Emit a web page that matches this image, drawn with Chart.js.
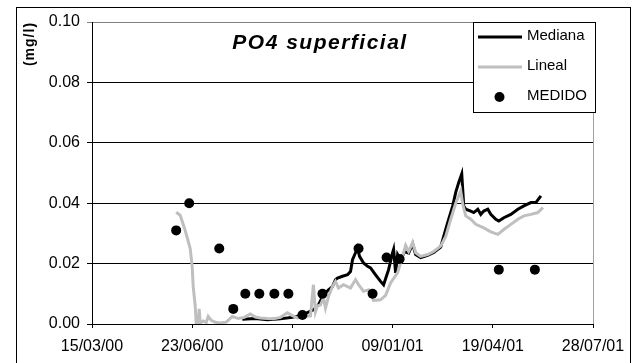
<!DOCTYPE html>
<html>
<head>
<meta charset="utf-8">
<script src="https://cdn.jsdelivr.net/npm/chart.js@4/dist/chart.umd.min.js"></script>
<style>
  html, body { margin: 0; padding: 0; background: #fff; }
  canvas { display: block; }
</style>
</head>
<body>
<canvas id="chart" width="637" height="363"></canvas>
<script>
// x values are days counted from 15/03/00
const tickLabels = ["15/03/00", "23/06/00", "01/10/00", "09/01/01", "19/04/01", "28/07/01"];

const medianaDays = [150, 163, 175, 188, 200, 210, 221, 226, 231, 236, 240, 243, 245, 250, 255, 258, 260, 263, 265, 267,
    271, 275, 278, 283, 288, 291, 296, 300, 301, 303, 305, 308, 312, 316, 320, 323, 328, 335, 341, 348,
    355, 360, 363, 366, 369, 371, 373, 378, 381, 385, 388, 391, 395, 398, 403, 406, 411, 418, 425, 431,
    438, 443, 448];
const medianaValues = [0.0016, 0.0018, 0.0014, 0.0017, 0.0022, 0.003, 0.0047, 0.0063, 0.0097, 0.0113, 0.0124, 0.0147, 0.0152, 0.0158, 0.0163, 0.0174, 0.0213, 0.0236, 0.0252, 0.0224,
    0.0202, 0.0191, 0.0186, 0.0163, 0.0141, 0.013, 0.018, 0.0236, 0.0247, 0.0169, 0.023, 0.0213, 0.024, 0.0235, 0.0265, 0.023, 0.022, 0.0227, 0.0237, 0.0255,
    0.0336, 0.0391, 0.0436, 0.0469, 0.0497, 0.0391, 0.038, 0.0374, 0.0369, 0.038, 0.0363, 0.0374, 0.038, 0.0363, 0.0347, 0.0341, 0.0352, 0.0363, 0.038, 0.0391,
    0.0402, 0.0402, 0.0424];

const linealDays = [84, 88, 93, 98, 100, 101, 103, 104, 106, 107, 108, 111, 114, 116, 119, 123, 128, 134, 140, 146,
    152, 158, 163, 168, 175, 181, 188, 195, 200, 205, 211, 218, 221, 223, 225, 228, 231, 233, 236, 240,
    243, 246, 251, 258, 263, 266, 271, 276, 281, 288, 293, 298, 305, 310, 313, 316, 320, 323, 328, 335,
    341, 348, 353, 358, 363, 368, 370, 373, 378, 383, 391, 398, 405, 411, 418, 425, 431, 438, 445, 450];
const linealValues = [0.037, 0.036, 0.031, 0.025, 0.019, 0.0124, 0.006, 0.0003, 0.0005, 0.005, 0.0003, 0.001, 0.0005, 0.0025, 0.0012, 0.0006, 0.0003, 0.0006, 0.0025, 0.0018,
    0.0022, 0.0033, 0.0023, 0.002, 0.0018, 0.0017, 0.0022, 0.0037, 0.0028, 0.002, 0.0025, 0.0027, 0.013, 0.004, 0.006, 0.0063, 0.0086, 0.0053, 0.0091, 0.0124,
    0.0141, 0.0119, 0.013, 0.0119, 0.0147, 0.013, 0.0108, 0.0113, 0.0078, 0.008, 0.0095, 0.0136, 0.017, 0.0224, 0.026, 0.024, 0.027, 0.0236, 0.0224, 0.023,
    0.024, 0.0258, 0.029, 0.0347, 0.040, 0.0441, 0.0397, 0.0358, 0.0347, 0.033, 0.0318, 0.0305, 0.0297, 0.0313, 0.033, 0.0347, 0.0358, 0.0363, 0.0369, 0.0386];

const medidoDays = [84, 97, 127, 141, 153, 167, 182, 196, 210, 230, 266, 280, 294, 307, 406, 442];
const medidoValues = [0.031, 0.040, 0.025, 0.005, 0.010, 0.010, 0.010, 0.010, 0.003, 0.010, 0.025, 0.010, 0.022, 0.0215, 0.018, 0.018];

const toPoints = (days, values) => days.map((d, i) => ({ x: d, y: values[i] }));

const FONT = "'Liberation Sans', Arial, sans-serif";
Chart.defaults.font.family = FONT;
Chart.defaults.color = "#000";

// frame, plot border, title, y label and legend drawn by hand
const decorations = {
    id: "decorations",
    beforeDraw(chart) {
        const ctx = chart.ctx;
        ctx.save();
        ctx.fillStyle = "#fff";
        ctx.fillRect(0, 0, chart.width, chart.height);
        ctx.restore();
    },
    afterDraw(chart) {
        const ctx = chart.ctx;
        const area = chart.chartArea;
        ctx.save();

        // outer frame
        ctx.strokeStyle = "#000";
        ctx.lineWidth = 1;
        ctx.strokeRect(16.5, 7.5, 614, 370);

        // right edge of plot area
        ctx.strokeStyle = "#a0a0a0";
        ctx.beginPath();
        ctx.moveTo(Math.round(area.right) + 0.5, area.top);
        ctx.lineTo(Math.round(area.right) + 0.5, area.bottom);
        ctx.stroke();

        // title inside plot
        ctx.fillStyle = "#000";
        ctx.font = "italic bold 21px " + FONT;
        ctx.letterSpacing = "1.5px";
        ctx.textAlign = "center";
        ctx.textBaseline = "middle";
        ctx.fillText("PO4 superficial", 320, 43);

        // y axis unit
        ctx.font = "bold 14px " + FONT;
        ctx.letterSpacing = "1px";
        ctx.translate(30, 44);
        ctx.rotate(-Math.PI / 2);
        ctx.fillText("(mg/l)", 0, 0);
        ctx.setTransform(1, 0, 0, 1, 0, 0);
        ctx.letterSpacing = "0px";

        // legend
        const lx = 473, ly = 22, lw = 122, lh = 90;
        ctx.fillStyle = "#fff";
        ctx.fillRect(lx, ly, lw, lh);
        ctx.strokeStyle = "#000";
        ctx.strokeRect(lx + 0.5, ly + 0.5, lw, lh);

        const ds = chart.data.datasets;
        const rows = [
            { set: ds[2], y: 37 },
            { set: ds[1], y: 67 },
            { set: ds[0], y: 97 },
        ];
        ctx.font = "15px " + FONT;
        ctx.textAlign = "left";
        ctx.textBaseline = "middle";
        rows.forEach((row) => {
            if (row.set.showLine === false) {
                ctx.fillStyle = row.set.pointBackgroundColor;
                ctx.beginPath();
                ctx.arc(499.5, row.y, 5, 0, Math.PI * 2);
                ctx.fill();
            } else {
                ctx.strokeStyle = row.set.borderColor;
                ctx.lineWidth = 3;
                ctx.beginPath();
                ctx.moveTo(478, row.y);
                ctx.lineTo(522, row.y);
                ctx.stroke();
            }
            ctx.fillStyle = "#000";
            ctx.fillText(row.set.label, 527, row.y - 1);
        });
        ctx.restore();
    },
};

new Chart(document.getElementById("chart"), {
    type: "line",
    data: {
        datasets: [
            {
                label: "MEDIDO",
                data: toPoints(medidoDays, medidoValues),
                showLine: false,
                pointRadius: 5,
                pointBorderWidth: 0,
                pointBackgroundColor: "#000",
                borderColor: "#000",
                order: 0,
            },
            {
                label: "Lineal",
                data: toPoints(linealDays, linealValues),
                borderColor: "#bfbfbf",
                borderWidth: 3,
                pointRadius: 0,
                tension: 0,
                order: 1,
            },
            {
                label: "Mediana",
                data: toPoints(medianaDays, medianaValues),
                borderColor: "#000",
                borderWidth: 3,
                pointRadius: 0,
                tension: 0,
                order: 2,
            },
        ],
    },
    options: {
        responsive: false,
        animation: false,
        devicePixelRatio: 1,
        layout: {
            padding: { left: 16, right: 44, top: 22, bottom: 0 },
        },
        plugins: {
            legend: { display: false },
            tooltip: { enabled: false },
            title: { display: false },
        },
        scales: {
            x: {
                type: "linear",
                min: 0,
                max: 500,
                afterFit: (scale) => {
                    scale.height = 39;
                },
                ticks: {
                    stepSize: 100,
                    padding: 9,
                    maxRotation: 0,
                    font: { size: 16 },
                    color: "#000",
                    callback: (v) => tickLabels[Math.round(v / 100)],
                },
                grid: {
                    drawOnChartArea: false,
                    drawTicks: true,
                    tickLength: 4,
                    color: "#000",
                },
                border: { color: "#000", width: 1 },
            },
            y: {
                min: 0,
                max: 0.1,
                afterFit: (scale) => {
                    scale.width = 76;
                },
                ticks: {
                    stepSize: 0.02,
                    padding: 7,
                    font: { size: 16 },
                    color: "#000",
                    callback: (v) => v.toFixed(2),
                },
                grid: {
                    drawTicks: true,
                    tickLength: 5,
                    color: (c) => (c.tick && c.tick.value > 0.099 ? "#808080" : "#000"),
                },
                border: { color: "#000", width: 1 },
            },
        },
    },
    plugins: [decorations],
});
</script>
</body>
</html>
